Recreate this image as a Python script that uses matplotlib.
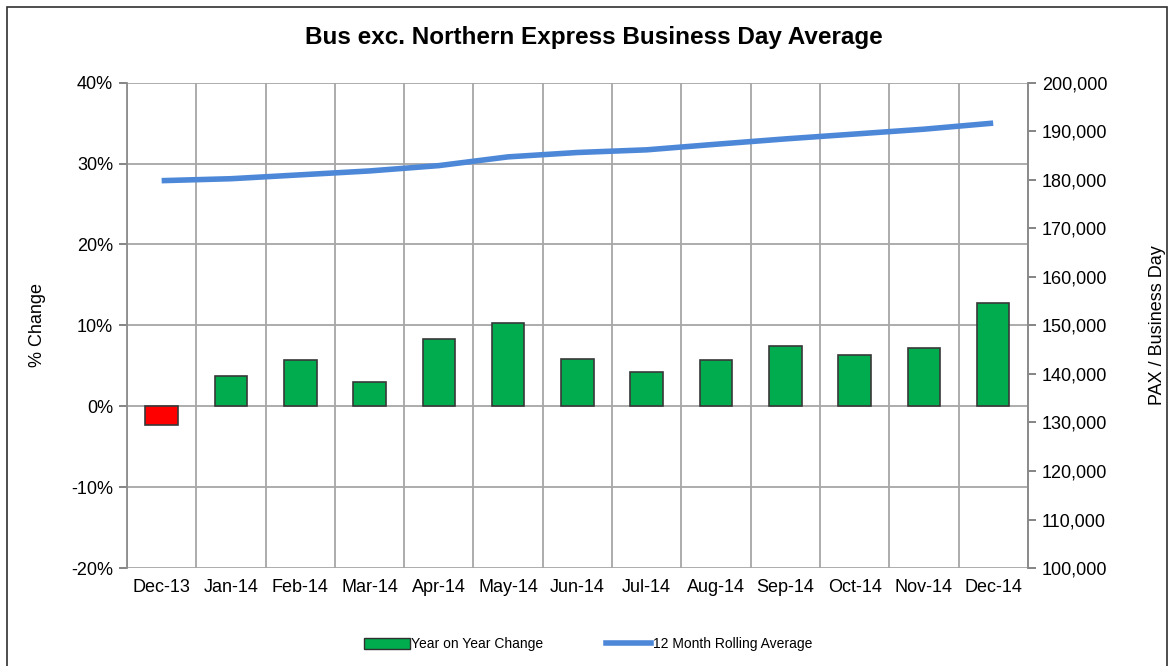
#!/usr/bin/env python3
"""Bus exc. Northern Express business day average: YoY change bars + rolling average line."""

import matplotlib

matplotlib.use("Agg")
import matplotlib.pyplot as plt
import numpy as np
from matplotlib.lines import Line2D
from matplotlib.patches import Patch, Rectangle
from matplotlib.ticker import FuncFormatter, MultipleLocator

months = ["Dec-13", "Jan-14", "Feb-14", "Mar-14", "Apr-14", "May-14", "Jun-14",
          "Jul-14", "Aug-14", "Sep-14", "Oct-14", "Nov-14", "Dec-14"]
yoy_change = [-2.35, 3.8, 5.7, 3.05, 8.35, 10.25, 5.85, 4.25, 5.7, 7.4, 6.3, 7.25, 12.75]
rolling_avg = [179800, 180200, 181000, 181800, 182900, 184700, 185600,
               186150, 187300, 188400, 189400, 190400, 191650]

GREEN = "#00AC4E"
RED = "#FF0000"
BLUE = "#4D88D8"
GRID = "#A6A6A6"


def main() -> None:
    plt.rcParams["font.family"] = ["Liberation Sans", "DejaVu Sans"]

    fig = plt.figure(figsize=(11.76, 6.66), dpi=100, facecolor="white")
    ax = fig.add_axes([0.108, 0.147, 0.766, 0.729])
    x = np.arange(len(months))

    colors = [RED if v < 0 else GREEN for v in yoy_change]
    ax.bar(x, yoy_change, width=0.47, color=colors, edgecolor="#383838", linewidth=1.2, zorder=3)

    ax.set_xlim(-0.5, len(months) - 0.5)
    ax.set_ylim(-20, 40)
    ax.yaxis.set_major_locator(MultipleLocator(10))
    ax.yaxis.set_major_formatter(FuncFormatter(lambda v, _: f"{v:.0f}%"))
    ax.set_xticks(x)
    ax.set_xticklabels(months)
    ax.set_xticks(np.arange(-0.5, len(months), 1), minor=True)
    ax.tick_params(axis="x", which="major", length=0, labelsize=13, pad=8)
    ax.tick_params(axis="x", which="minor", length=0)
    ax.tick_params(axis="y", length=6, width=1.2, color="#707070", labelsize=13, pad=4)
    ax.grid(True, axis="x", which="minor", color=GRID, linewidth=1.3, zorder=0)
    ax.grid(True, axis="y", which="major", color=GRID, linewidth=1.3, zorder=0)
    ax.set_ylabel("% Change", fontsize=13, labelpad=18)
    for side in ["top", "bottom"]:
        ax.spines[side].set_visible(False)
    for side in ["left", "right"]:
        ax.spines[side].set_color("#8C8C8C")
        ax.spines[side].set_linewidth(1.3)

    ax2 = ax.twinx()
    ax2.plot(x, rolling_avg, color=BLUE, linewidth=4, solid_capstyle="butt", zorder=4)
    ax2.set_ylim(100000, 200000)
    ax2.yaxis.set_major_locator(MultipleLocator(10000))
    ax2.yaxis.set_major_formatter(FuncFormatter(lambda v, _: f"{v:,.0f}"))
    ax2.tick_params(axis="y", length=6, width=1.2, color="#707070", labelsize=13, pad=4)
    ax2.set_ylabel("PAX / Business Day", fontsize=13, labelpad=30)
    for side in ["top", "bottom", "left"]:
        ax2.spines[side].set_visible(False)
    ax2.spines["right"].set_color("#8C8C8C")
    ax2.spines["right"].set_linewidth(1.3)

    fig.text(0.505, 0.944, "Bus exc. Northern Express Business Day Average",
             ha="center", va="center", fontsize=17.5, fontweight="bold")

    handles = [
        Patch(facecolor=GREEN, edgecolor="#303030", linewidth=1.0),
        Line2D([0], [0], color=BLUE, linewidth=4),
    ]
    fig.legend(handles, ["Year on Year Change", "12 Month Rolling Average"],
               loc="center", bbox_to_anchor=(0.5, 0.033), ncol=2, frameon=False,
               fontsize=10, handlelength=3.3, handleheight=0.8, handletextpad=0.1,
               columnspacing=4.5)

    fig.patches.append(Rectangle((0.006, -0.01), 0.986, 0.999, transform=fig.transFigure,
                                 fill=False, edgecolor="#303030", linewidth=1.2))

    fig.savefig("out.png", dpi=100, facecolor="white")
    plt.close(fig)


if __name__ == "__main__":
    main()
